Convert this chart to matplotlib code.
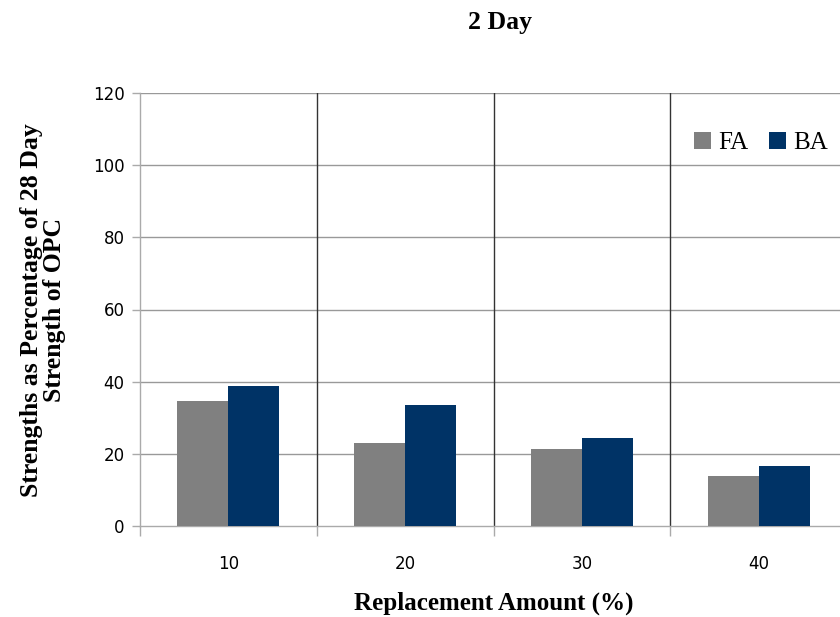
import matplotlib

matplotlib.use('Agg')
from matplotlib import pyplot as plt  # noqa: E402
import numpy as np  # noqa: E402


categories = ['10', '20', '30', '40']
fa_values = [34.7, 23.1, 21.4, 13.9]
ba_values = [38.8, 33.6, 24.5, 16.5]
y_ticks = [0, 20, 40, 60, 80, 100, 120]

FA_COLOR = '#808080'
BA_COLOR = '#003366'
SERIF = ['Liberation Serif', 'DejaVu Serif']
SANS = ['DejaVu Sans']


def main() -> None:
    figure = plt.figure(figsize=(8.4, 6.17), dpi=100)
    axis = figure.add_axes([140 / 840, 1 - 526 / 617, 707 / 840, 433 / 617])

    x = np.arange(1, len(categories) + 1)
    width = 0.288
    axis.bar(x - width / 2, fa_values, width, color=FA_COLOR, label='FA', zorder=3)
    axis.bar(x + width / 2, ba_values, width, color=BA_COLOR, label='BA', zorder=3)

    axis.set_xlim(0.5, len(categories) + 0.5)
    axis.set_ylim(0, 120)
    axis.set_yticks(y_ticks)
    axis.set_yticklabels([str(v) for v in y_ticks], fontsize=12, family=SANS)

    # category boundaries carry the ticks and dark vertical lines
    boundaries = np.arange(0.5, len(categories) + 1.0, 1.0)
    axis.set_xticks(boundaries)
    axis.set_xticklabels([''] * len(boundaries))
    axis.set_xticks(x, minor=True)
    axis.set_xticklabels(categories, minor=True, fontsize=12, family=SANS)
    axis.tick_params(axis='x', which='minor', length=0, pad=21)
    axis.tick_params(axis='x', which='major', length=7, color='#aaaaaa', width=1)
    axis.tick_params(axis='y', length=6, color='#aaaaaa', width=1, pad=5)

    for value in y_ticks[1:]:
        axis.axhline(value, color='#999999', linewidth=1.0, zorder=1)
    for value in boundaries[1:]:
        axis.axvline(value, color='#333333', linewidth=1.0, zorder=1)

    for side in ('top', 'right'):
        axis.spines[side].set_visible(False)
    axis.spines['left'].set_color('#aaaaaa')
    axis.spines['bottom'].set_color('#aaaaaa')
    axis.spines['left'].set_linewidth(1.0)
    axis.spines['bottom'].set_linewidth(1.0)

    figure.text(500 / 840, 1 - 23 / 617, '2 Day', ha='center', va='center',
                fontsize=18.5, fontweight='bold', family=SERIF)
    figure.text(494 / 840, 1 - 603 / 617, 'Replacement Amount (%)', ha='center', va='center',
                fontsize=18, fontweight='bold', family=SERIF)
    figure.text(43 / 840, 1 - 310 / 617, 'Strengths as Percentage of 28 Day\nStrength of OPC',
                ha='center', va='center', rotation=90, fontsize=18.5, fontweight='bold',
                family=SERIF, linespacing=1.05)

    figure.legend(
        loc='upper left',
        bbox_to_anchor=(684 / 840, 1 - 122 / 617),
        ncol=2,
        frameon=False,
        prop={'family': SERIF, 'size': 18},
        handlelength=0.68,
        handleheight=0.68,
        handletextpad=0.3,
        columnspacing=0.8,
        borderaxespad=0.0,
    )

    figure.savefig('out.png', dpi=100)
    plt.close(figure)


if __name__ == '__main__':
    main()
